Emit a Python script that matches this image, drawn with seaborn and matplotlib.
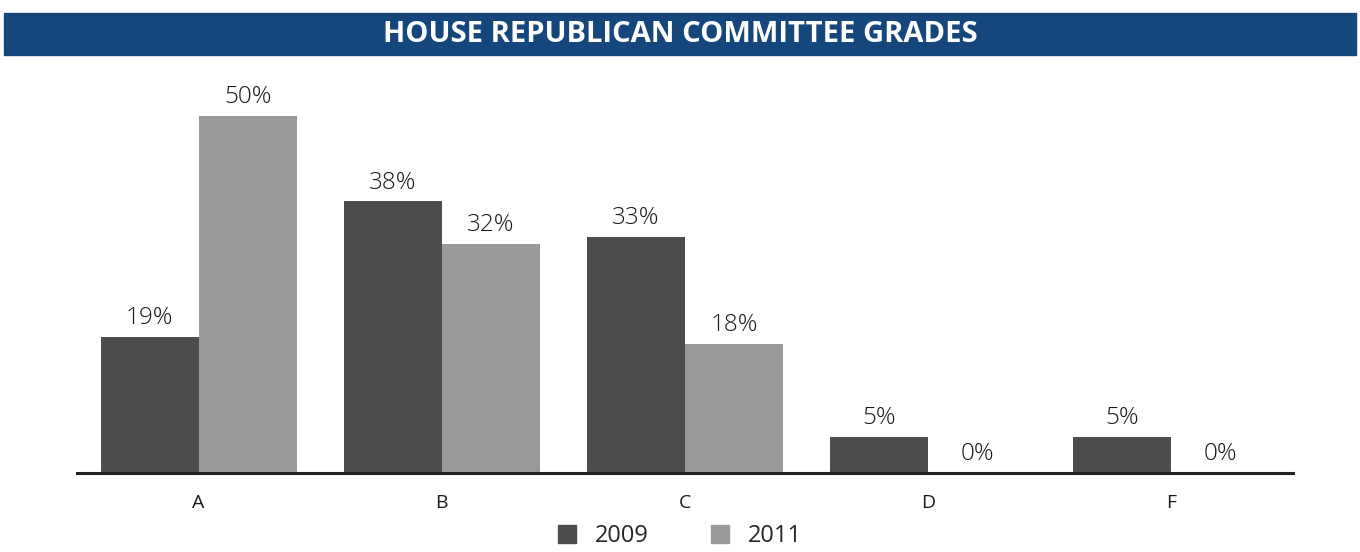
import matplotlib
matplotlib.use("Agg")
import matplotlib.pyplot as plt
from matplotlib.patches import Rectangle
import seaborn as sns
import pandas as pd

grades = ["A", "B", "C", "D", "F"]
years = ["2009", "2011"]
share_2009 = [19, 38, 33, 5, 5]
share_2011 = [50, 32, 18, 0, 0]
colors = ["#4d4d4d", "#999999"]
title = "HOUSE REPUBLICAN COMMITTEE GRADES"

df = pd.DataFrame({
    "grade": grades * 2,
    "year": [years[0]] * len(grades) + [years[1]] * len(grades),
    "share": share_2009 + share_2011,
})

sns.set_theme(style="white")
plt.rcParams["font.family"] = ["Open Sans", "DejaVu Sans"]

fig = plt.figure(figsize=(13.6, 5.52), dpi=100)
ax = fig.add_axes([0.0566, 0.1431, 0.8941, 0.712])

sns.barplot(data=df, x="grade", y="share", hue="year", order=grades,
            hue_order=years, palette=colors, width=0.806, saturation=1,
            linewidth=0, ax=ax, legend=False)

ax.set_xlim(-0.5, len(grades) - 0.5)
ax.set_ylim(0, 55)
ax.set_xlabel("")
ax.set_ylabel("")
ax.set_yticks([])
ax.tick_params(axis="x", length=0, pad=15, labelsize=14, labelcolor="#1a1a1a")
for side in ["left", "right", "top"]:
    ax.spines[side].set_visible(False)
ax.spines["bottom"].set_color("#222222")
ax.spines["bottom"].set_linewidth(2.2)

for container in ax.containers:
    ax.bar_label(container, labels=[f"{v:.0f}%" for v in container.datavalues],
                 padding=5, fontsize=17.5, color="#1a1a1a", fontweight="light")

# banner with the chart title
fig.patches.append(Rectangle((4 / 1360, 1 - 55 / 552), 1352 / 1360, 42 / 552,
                             transform=fig.transFigure, color="#15477c", zorder=0))
fig.text(0.5, 1 - 34 / 552, title, ha="center", va="center", color="white",
         fontsize=21, fontweight="bold")

handles = [Rectangle((0, 0), 1, 1, color=c) for c in colors]
fig.legend(handles, years, loc="lower center", bbox_to_anchor=(0.5, -0.032),
           ncol=2, frameon=False, fontsize=17, handlelength=0.8,
           handleheight=0.8, columnspacing=2.6, handletextpad=0.8)

fig.savefig("out.png", dpi=100)
